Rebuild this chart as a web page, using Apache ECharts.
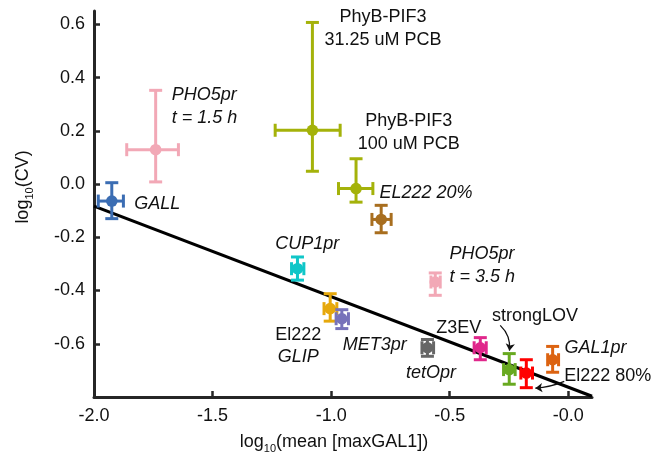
<!DOCTYPE html>
<html><head><meta charset="utf-8">
<script src="https://cdn.jsdelivr.net/npm/echarts@6/dist/echarts.min.js"></script>
<style>html,body{margin:0;padding:0;background:#fff}#c{width:656px;height:461px}</style>
</head><body><div id="c"></div>
<script>
// ---- data (log10 values) ----
const names  = ['GALL','PHO5pr 1.5h','PhyB-PIF3 31.25','PhyB-PIF3 100','EL222 20%','CUP1pr','El222 GLIP','MET3pr','PHO5pr 3.5h','tetOpr','Z3EV','strongLOV','El222 80%','GAL1pr'];
const xMean  = [-1.925,-1.740,-1.079,-0.895,-0.789,-1.142,-1.004,-0.955,-0.561,-0.594,-0.371,-0.249,-0.177,-0.066];
const xLow   = [-1.982,-1.862,-1.236,-0.969,-0.828,-1.167,-1.030,-0.979,-0.579,-0.617,-0.397,-0.273,-0.200,-0.087];
const xHigh  = [-1.876,-1.644,-0.962,-0.824,-0.747,-1.115,-0.976,-0.927,-0.540,-0.568,-0.346,-0.224,-0.151,-0.041];
const yMean  = [-0.064, 0.129, 0.202,-0.017,-0.133,-0.318,-0.468,-0.506,-0.368,-0.615,-0.615,-0.697,-0.710,-0.660];
const yLow   = [-0.130, 0.008, 0.048,-0.068,-0.183,-0.361,-0.515,-0.543,-0.418,-0.647,-0.660,-0.752,-0.765,-0.707];
const yHigh  = [ 0.005, 0.352, 0.607, 0.095,-0.080,-0.274,-0.412,-0.472,-0.334,-0.584,-0.577,-0.637,-0.660,-0.610];
const colors = ['#3b6db3','#f2a8b6','#a4b20a','#a4b20a','#a86e1f','#10c6c8','#e6a80c','#7772ba','#f2a8b6','#666666','#e0278b','#68a920','#ff0000','#dc6311'];

const fitX = [-2.0, 0.1];
const fitY = [-0.083, -0.797];

const xTicks = [-2.0,-1.5,-1.0,-0.5,0.0];
const yTicks = [-0.6,-0.4,-0.2,0.0,0.2,0.4,0.6];

// annotation texts and their anchors (data coordinates)
const annText   = ['PHO5pr\nt = 1.5 h','PhyB-PIF3\n31.25 uM PCB','PhyB-PIF3\n100 uM PCB','EL222 20%','GALL','CUP1pr','El222','GLIP','MET3pr','tetOpr','Z3EV','strongLOV','GAL1pr','El222 80%','PHO5pr\nt = 3.5 h'];
const annX      = [-1.672,-0.781,-0.673,-0.796,-1.830,-1.101,-1.139,-1.139,-0.951,-0.684,-0.557,-0.322,-0.016,-0.017,-0.501];
const annY      = [ 0.293, 0.584, 0.195,-0.034,-0.076,-0.224,-0.569,-0.650,-0.606,-0.708,-0.540,-0.496,-0.615,-0.723,-0.307];
const annAlign  = ['left','center','center','left','left','center','center','center','left','left','left','left','left','left','left'];
const annItalic = [true,false,false,true,true,true,false,true,true,true,false,false,true,false,true];

// arrows [from, to] in data coordinates
const arrows = [
  [[-0.287,-0.531],[-0.248,-0.626]],
  [[-0.017,-0.741],[-0.139,-0.767]]
];
const arrowCurve = [0.25, 0.08];

const FONT = '"Liberation Sans", Arial, Helvetica, sans-serif';
const chart = echarts.init(document.getElementById('c'));

const ptData = names.map((n,i)=>[xMean[i], yMean[i], xLow[i], xHigh[i], yLow[i], yHigh[i]]);
const annData = annText.map((t,i)=>[annX[i], annY[i], i]);

chart.setOption({
  animation:false,
  grid:{left:94, right:64, top:11, bottom:64},
  xAxis:{
    type:'value', min:-2.0, max:0.1,
    axisLine:{show:true, onZero:false, lineStyle:{color:'#262626', width:3}},
    axisTick:{show:true, inside:true, length:6, lineStyle:{color:'#262626', width:2.5}, customValues:xTicks},
    axisLabel:{customValues:xTicks, color:'#111', fontSize:18, fontFamily:FONT, margin:10,
      formatter:v=> (Math.abs(v)<1e-9 ? '-0.0' : v.toFixed(1))},
    splitLine:{show:false}
  },
  yAxis:{
    type:'value', min:-0.8, max:0.65,
    axisLine:{show:true, onZero:false, lineStyle:{color:'#262626', width:3}},
    axisTick:{show:true, inside:true, length:6, lineStyle:{color:'#262626', width:2.5}, customValues:yTicks},
    axisLabel:{customValues:yTicks, color:'#111', fontSize:18, fontFamily:FONT, margin:9,
      formatter:v=> (Math.abs(v)<1e-9 ? '0.0' : v.toFixed(1))},
    splitLine:{show:false}
  },
  graphic:[
    {type:'text', x:21, y:187, rotation:Math.PI/2,
     style:{text:'{a|log}{s|10}{a|(CV)}', align:'center', verticalAlign:'middle',
       rich:{a:{fontSize:18, fontFamily:FONT, fill:'#111', verticalAlign:'bottom', lineHeight:22},
             s:{fontSize:11, fontFamily:FONT, fill:'#111', verticalAlign:'bottom', lineHeight:22, padding:[0,0,-3,0]}}}},
    {type:'text', x:334, y:440,
     style:{text:'{a|log}{s|10}{a|(mean [maxGAL1])}', align:'center', verticalAlign:'middle',
       rich:{a:{fontSize:18, fontFamily:FONT, fill:'#111', verticalAlign:'bottom', lineHeight:22},
             s:{fontSize:11, fontFamily:FONT, fill:'#111', verticalAlign:'bottom', lineHeight:22, padding:[0,0,-3,0]}}}}
  ],
  series:[
    {type:'line', data:fitX.map((x,i)=>[x, fitY[i]]), symbol:'none', z:1,
     lineStyle:{color:'#000', width:3.2}},
    {type:'custom', z:3, data:ptData,
     renderItem:(params, api)=>{
       const i = params.dataIndex;
       const c  = api.coord([api.value(0), api.value(1)]);
       const xl = api.coord([api.value(2), api.value(1)]);
       const xh = api.coord([api.value(3), api.value(1)]);
       const yl = api.coord([api.value(0), api.value(4)]);
       const yh = api.coord([api.value(0), api.value(5)]);
       const col = colors[i], cap = 6.5, lw = 3;
       const st = {stroke:col, lineWidth:lw};
       const L = (x1,y1,x2,y2)=>({type:'line', shape:{x1,y1,x2,y2}, style:st});
       return {type:'group', children:[
         L(xl[0],c[1],xh[0],c[1]),
         L(xl[0],c[1]-cap,xl[0],c[1]+cap),
         L(xh[0],c[1]-cap,xh[0],c[1]+cap),
         L(c[0],yl[1],c[0],yh[1]),
         L(c[0]-cap,yl[1],c[0]+cap,yl[1]),
         L(c[0]-cap,yh[1],c[0]+cap,yh[1]),
         {type:'circle', shape:{cx:c[0], cy:c[1], r:5.8}, style:{fill:col}}
       ]};
     }},
    {type:'custom', z:4, data:annData, silent:true,
     renderItem:(params, api)=>{
       const i = params.dataIndex;
       const p = api.coord([api.value(0), api.value(1)]);
       return {type:'text', x:p[0], y:p[1], style:{text:annText[i],
         font:(annItalic[i]?'italic ':'')+'18px '+FONT, fill:'#111',
         align:annAlign[i], verticalAlign:'middle', lineHeight:23}};
     }},
    {type:'lines', coordinateSystem:'cartesian2d', z:5, symbol:['none','arrow'], symbolSize:7,
     lineStyle:{color:'#111', width:1.3, opacity:1},
     data:arrows.map((a,i)=>({coords:a, lineStyle:{curveness:arrowCurve[i]}}))}
  ]
});
</script>
</body></html>
